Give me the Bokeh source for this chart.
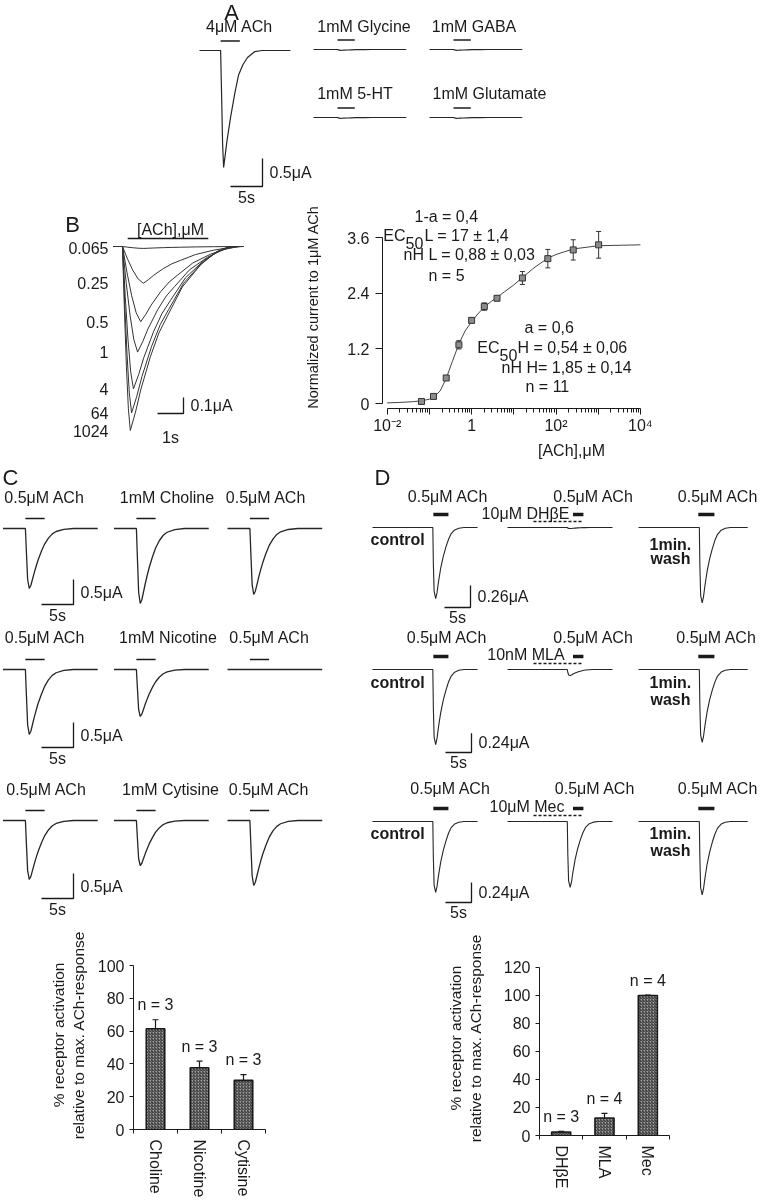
import math
from bokeh.plotting import figure
from bokeh.models import (Range1d, FixedTicker, LinearAxis, CustomJSTickFormatter,
                          Whisker, TeeHead, ColumnDataSource)
from bokeh.layouts import column, row
from bokeh.core.properties import value
from bokeh.embed import file_html
from bokeh.resources import INLINE

FONT = "Liberation Sans"
INK = "#1a1a1a"
TRACE = "#262626"

# ============================ DATA ============================
# A - 4 uM ACh versus other transmitters (peak current in uA, times in s)
a_names = ["4μM ACh", "1mM Glycine", "1mM GABA", "1mM 5-HT", "1mM Glutamate"]
a_peak = [2.09, 0.015, 0.015, 0.015, 0.015]
a_onset = [3.3, 3.75, 3.75, 3.75, 3.75]
a_stim = [3.0, 2.7, 2.7, 2.7, 2.7]
a_length = [14.2, 14.5, 14.5, 14.5, 14.5]
# time course (s after onset, fraction of peak)
a_shape_t = [0, 0.16, 0.31, 0.47, 0.7, 1.0, 1.56, 2.2, 2.8, 3.5, 4.2, 5.3, 6.5]
a_shape_f = [0, 0.4, 0.8, 1.0, 0.9, 0.77, 0.57, 0.37, 0.21, 0.12, 0.06, 0.01, 0]

# B - ACh concentration series (uM), peak current (uA)
b_conc = ["0.065", "0.25", "0.5", "1", "4", "64", "1024"]
b_peak = [0.012, 0.23, 0.47, 0.66, 0.89, 1.04, 1.15]
b_time_to_peak = [0.8, 0.8, 0.7, 0.58, 0.42, 0.35, 0.3]
b_rise_u = [0, 0.25, 0.5, 0.75, 1.0]
b_rise_f = [0, 0.35, 0.65, 0.88, 1.0]
b_decay_t = [0, 0.2, 0.4, 0.77, 1.1, 1.42, 2.0, 2.7, 3.3, 3.8]
b_decay_f = [1, 0.9, 0.78, 0.6, 0.47, 0.38, 0.22, 0.1, 0.03, 0]
b_stim = [0.2, 3.3]

# B - concentration-response
dr_conc = [0.065, 0.125, 0.25, 0.5, 1, 2, 4, 16, 64, 256, 1024]
dr_mean = [0.05, 0.16, 0.56, 1.28, 1.81, 2.11, 2.29, 2.73, 3.15, 3.34, 3.45]
dr_sem = [0.02, 0.03, 0.04, 0.09, 0.05, 0.08, 0.05, 0.14, 0.2, 0.22, 0.29]
dr_fit_conc = [0.01, 0.02, 0.04, 0.065, 0.1, 0.125, 0.18, 0.25, 0.35, 0.5, 0.7, 1, 1.4,
               2, 3, 4, 6, 10, 16, 30, 64, 100, 256, 1000, 10000]
dr_fit_norm = [0.02, 0.03, 0.045, 0.065, 0.1, 0.14, 0.28, 0.55, 0.92, 1.3, 1.58, 1.78, 1.95,
               2.1, 2.23, 2.31, 2.43, 2.58, 2.74, 2.95, 3.16, 3.24, 3.36, 3.43, 3.45]
dr_y_ticks = [0, 1.2, 2.4, 3.6]
dr_low_text = ["1-a = 0,4", "L = 17 ± 1,4", "nH L = 0,88 ± 0,03", "n = 5"]
dr_high_text = ["a = 0,6", "H = 0,54 ± 0,06", "nH H= 1,85 ± 0,14", "n = 11"]

# C - partial agonists
c_names = [["0.5μM ACh", "1mM Choline", "0.5μM ACh"],
           ["0.5μM ACh", "1mM Nicotine", "0.5μM ACh"],
           ["0.5μM ACh", "1mM Cytisine", "0.5μM ACh"]]
c_peak = [[1.2, 1.5, 1.32], [1.3, 0.94, 0.0], [1.18, 0.9, 1.3]]
c_onset, c_stim, c_length = 3.5, 3.0, 14.8
c_shape_t = [0, 0.16, 0.35, 0.6, 0.85, 1.1, 1.4, 1.7, 2.0, 2.5, 3.0, 3.6, 4.2, 4.8, 6.0, 7.5]
c_shape_f = [0, 0.4, 0.85, 1.0, 0.95, 0.85, 0.73, 0.62, 0.52, 0.38, 0.26, 0.16, 0.09, 0.05,
             0.015, 0]

# D - antagonists
d_ach = "0.5μM ACh"
d_blocker = ["10μM DHβE", "10nM MLA", "10μM Mec"]
d_peak = [[0.84, 0.012, 0.89], [0.94, 0.075, 0.91], [0.85, 0.79, 0.88]]
d_scale_ua = [0.26, 0.24, 0.24]
d_onset = [11.6, 11.5, 11.7]
d_stim_on = [11.7, 12.6, 11.5]
d_stim_off = 14.6
d_blocker_on = 5.0
d_length = [20.2, 20.2, 21.0]
d_shape_t = [0, 0.1, 0.25, 0.55, 0.8, 1.1, 1.5, 2.0, 2.5, 3.0, 3.5, 4.2, 5.0, 6.0]
d_shape_f = [0, 0.5, 0.9, 1.0, 0.92, 0.76, 0.58, 0.41, 0.28, 0.17, 0.09, 0.035, 0.01, 0]

# bar charts (% of max. ACh response)
cbar_cats = ["Choline", "Nicotine", "Cytisine"]
cbar_vals = [61.5, 37.7, 30.0]
cbar_err = [5.5, 4.0, 3.5]
cbar_n = ["n = 3", "n = 3", "n = 3"]
cbar_ticks = [0, 20, 40, 60, 80, 100]
dbar_cats = ["DHβE", "MLA", "Mec"]
dbar_vals = [2.5, 12.5, 99.8]
dbar_err = [0.5, 3.3, 0.3]
dbar_n = ["n = 3", "n = 4", "n = 4"]
dbar_ticks = [0, 20, 40, 60, 80, 100, 120]


# ============================ HELPERS ============================
def canvas(x0, x1, y0, y1):
    p = figure(width=x1 - x0, height=y1 - y0, x_range=Range1d(x0, x1),
               y_range=Range1d(y1, y0), output_backend="svg", toolbar_location=None,
               x_axis_location=None, y_axis_location=None, title=None,
               min_border=0, min_border_left=0, min_border_right=0,
               min_border_top=0, min_border_bottom=0, outline_line_color=None,
               frame_align=False)
    p.grid.visible = False
    return p


def txt(p, xs, ys, texts, size="16px", align="center", style="normal"):
    p.text(x=xs, y=ys, text=texts, text_align=align, text_baseline="middle",
           text_font=value(FONT), text_font_size=size, text_font_style=style,
           text_color=INK)


def trace(p, x0, yb, onset, peak, length, pxs, pxa, st, sf, width=1.2):
    ts = [0.0, onset] + [onset + t for t in st[1:]] + [length]
    fs = [0.0, 0.0] + list(sf[1:]) + [0.0]
    p.line([x0 + t * pxs for t in ts], [yb + peak * f * pxa for f in fs],
           line_color=TRACE, line_width=width)


def scalebar(p, xc, yc, t_len, a_len, pxs, pxa, t_lab, a_lab, t_dy=11):
    h = t_len * pxs
    v = a_len * pxa
    p.line([xc - h, xc, xc], [yc, yc, yc - v], line_color=INK, line_width=1.3)
    txt(p, [xc + 7], [yc - v / 2], [a_lab], align="left")
    txt(p, [xc - h / 2], [yc + t_dy], [t_lab])


# ============================ PANEL A ============================
pA = canvas(0, 760, 0, 205)
txt(pA, [231], [12], ["A"], size="22px")
A_X0 = [199, 313, 429, 313, 429]
A_YB = [50, 49, 49, 117, 117]
A_LX = [239, 363.5, 473.5, 354.5, 489]
A_LY = [26, 26, 26, 92.5, 92.5]
A_PXS, A_PXA = 6.4, 56
for i in range(5):
    trace(pA, A_X0[i], A_YB[i], a_onset[i], a_peak[i], a_length[i], A_PXS, A_PXA,
          a_shape_t, a_shape_f)
    x_on = A_X0[i] + a_onset[i] * A_PXS
    pA.line([x_on, x_on + a_stim[i] * A_PXS], [A_YB[i] - 9.5] * 2,
            line_color=INK, line_width=1.5)
txt(pA, A_LX, A_LY, a_names)
scalebar(pA, 262, 186, 5, 0.5, A_PXS, A_PXA, "5s", "0.5μA")

# ============================ PANEL B (traces) ============================
pBL = canvas(0, 290, 205, 466)
txt(pBL, [72], [224], ["B"], size="22px")
B_XON, B_YB, B_PXS, B_PXA = 122, 246, 26, 160
for amp, ttp in zip(b_peak, b_time_to_peak):
    ts = [-0.35, 0] + [u * ttp for u in b_rise_u[1:]] + [ttp + d for d in b_decay_t[1:]] + [4.65]
    fs = [0, 0] + b_rise_f[1:] + b_decay_f[1:] + [0]
    pBL.line([B_XON + t * B_PXS for t in ts], [B_YB + amp * f * B_PXA for f in fs],
             line_color="#333333", line_width=1)
txt(pBL, [108] * len(b_conc), [B_YB + max(a * B_PXA, 1.5) for a in b_peak], b_conc,
    align="right")
pBL.line([B_XON + b_stim[0] * B_PXS, B_XON + b_stim[1] * B_PXS], [238, 238],
         line_color=INK, line_width=1.3)
txt(pBL, [170], [229], ["[ACh],μM"])
scalebar(pBL, 183, 413, 1, 0.1, B_PXS, B_PXA, "1s", "0.1μA", t_dy=24)

# ============================ PANEL B (concentration-response) ============================
X10M2, PXDEC = 386.7, 42.2      # screen position of 10^-2 and px per decade
Y0, PXU = 403.3, 46.08          # screen position of 0 and px per unit
FR_L, FR_R, FR_T, FR_B = 382, 760, 205, 408


def drx(px):
    return 10 ** (-2 + (px - X10M2) / PXDEC)


def dry(py):
    return (Y0 - py) / PXU


pBR = figure(width=470, height=261, x_axis_type="log",
             x_range=Range1d(drx(FR_L), drx(FR_R)), y_range=Range1d(dry(FR_B), dry(FR_T)),
             output_backend="svg", toolbar_location=None, title=None,
             min_border_left=FR_L - 290, min_border_right=0, min_border_top=0,
             min_border_bottom=466 - FR_B, outline_line_color=None, frame_align=False)
pBR.grid.visible = False
xa = pBR.xaxis[0]
xa.ticker = FixedTicker(ticks=[10.0 ** k for k in range(-2, 5)],
                        minor_ticks=[m * 10.0 ** k for k in range(-2, 4) for m in range(2, 10)])
xa.formatter = CustomJSTickFormatter(code="""
const e = Math.round(Math.log10(tick));
if (e % 2 != 0) { return ""; }
if (e == 0) { return "1"; }
const sup = {"-2": "⁻²", "2": "²", "4": "⁴"};
return "10" + sup[String(e)];
""")
xa.bounds = (0.01, 10000)
xa.axis_label = "[ACh],μM"
ya = pBR.yaxis[0]
ya.ticker = FixedTicker(ticks=dr_y_ticks)
ya.bounds = (0, 3.6)
ya.axis_label = "Normalized current to 1μM ACh"
for ax in (xa, ya):
    ax.axis_line_color = INK
    ax.major_tick_line_color = INK
    ax.minor_tick_line_color = INK
    ax.major_tick_in = 0
    ax.minor_tick_in = 0
    ax.major_label_text_font = FONT
    ax.major_label_text_font_size = "16px"
    ax.major_label_text_color = INK
    ax.axis_label_text_font = FONT
    ax.axis_label_text_font_size = "16px"
    ax.axis_label_text_font_style = "normal"
    ax.axis_label_text_color = INK
ya.axis_label_text_font_size = "14.5px"
xa.major_tick_out = 6
xa.minor_tick_out = 4
xa.major_label_standoff = 2
xa.axis_label_standoff = 5
ya.major_tick_out = 7
ya.minor_tick_out = 0
ya.major_label_standoff = 6
ya.axis_label_standoff = 23

pBR.line(dr_fit_conc, dr_fit_norm, line_color="#444444", line_width=1)
src = ColumnDataSource(dict(x=dr_conc, y=dr_mean,
                            lo=[m - s for m, s in zip(dr_mean, dr_sem)],
                            hi=[m + s for m, s in zip(dr_mean, dr_sem)]))
pBR.add_layout(Whisker(source=src, base="x", upper="hi", lower="lo", line_color="#333333",
                       line_width=1,
                       upper_head=TeeHead(size=5, line_color="#333333", line_width=1),
                       lower_head=TeeHead(size=5, line_color="#333333", line_width=1)))
pBR.scatter("x", "y", source=src, marker="square", size=6, fill_color="#8c8c8c",
            line_color="#333333", line_width=1)

# fit parameter annotations
txt(pBR, [drx(414)], [dry(216)], [dr_low_text[0]], align="left")
txt(pBR, [drx(405)], [dry(235)], ["EC"], align="right")
txt(pBR, [drx(405)], [dry(242)], ["50"], align="left")
txt(pBR, [drx(424)], [dry(235)], [dr_low_text[1]], align="left")
txt(pBR, [drx(403)], [dry(254)], [dr_low_text[2]], align="left")
txt(pBR, [drx(428)], [dry(275)], [dr_low_text[3]], align="left")
txt(pBR, [drx(524)], [dry(327)], [dr_high_text[0]], align="left")
txt(pBR, [drx(499)], [dry(347)], ["EC"], align="right")
txt(pBR, [drx(499)], [dry(354)], ["50"], align="left")
txt(pBR, [drx(517)], [dry(347)], [dr_high_text[1]], align="left")
txt(pBR, [drx(501)], [dry(367)], [dr_high_text[2]], align="left")
txt(pBR, [drx(525)], [dry(386)], [dr_high_text[3]], align="left")

# ============================ PANELS C and D (traces) ============================
pCD = canvas(0, 760, 466, 930)
txt(pCD, [10, 382], [477, 477], ["C", "D"], size="22px")

C_X0 = [2.5, 113.5, 227]
C_YB = [528, 669, 820]
C_LY = [497, 637, 789]
C_LX = [[44, 166.5, 265.5], [44.5, 167.5, 269], [46, 170, 268.5]]
C_SB = [(73, 604), (73, 747), (73, 898)]
C_PXS, C_PXA = 6.4, 50
for r in range(3):
    for c in range(3):
        trace(pCD, C_X0[c], C_YB[r], c_onset, c_peak[r][c], c_length, C_PXS, C_PXA,
              c_shape_t, c_shape_f, width=1.3)
        x_on = C_X0[c] + c_onset * C_PXS
        pCD.line([x_on, x_on + c_stim * C_PXS], [C_YB[r] - 10] * 2, line_color=INK,
                 line_width=1.5)
    txt(pCD, C_LX[r], [C_LY[r]] * 3, c_names[r])
    scalebar(pCD, C_SB[r][0], C_SB[r][1], 5, 0.5, C_PXS, C_PXA, "5s", "0.5μA")

D_X0 = [372, 507, 638]
D_YB = [527, 669, 821]
D_LY = [496, 637, 788]
D_LX = [[447.5, 593, 717.5], [446.5, 593, 716], [450, 594.5, 717.5]]
D_BL = [(525, 513), (525.5, 654), (526.5, 806)]
D_SB = [(470, 607), (471, 752), (471, 902)]
D_SB_PX = [22, 19.2, 20]
D_PXS = 5.2
D_CTRL_Y = [539, 682, 833]
D_MIN_Y = [543.5, 682, 832.5]
D_WASH_Y = [557.5, 699, 849.5]
for r in range(3):
    pxa = D_SB_PX[r] / d_scale_ua[r]
    for c in range(3):
        trace(pCD, D_X0[c], D_YB[r], d_onset[c], d_peak[r][c], d_length[c], D_PXS, pxa,
              d_shape_t, d_shape_f, width=1.1)
        pCD.line([D_X0[c] + d_stim_on[c] * D_PXS, D_X0[c] + d_stim_off * D_PXS],
                 [D_YB[r] - 13] * 2, line_color=INK, line_width=3.5)
    pCD.line([D_X0[1] + d_blocker_on * D_PXS, D_X0[1] + d_stim_off * D_PXS],
             [D_YB[r] - 6] * 2, line_color=INK, line_width=1.5, line_dash="3 2")
    txt(pCD, D_LX[r], [D_LY[r]] * 3, [d_ach] * 3)
    txt(pCD, [D_BL[r][0]], [D_BL[r][1]], [d_blocker[r]])
    txt(pCD, [370], [D_CTRL_Y[r]], ["control"], align="left", style="bold")
    txt(pCD, [649], [D_MIN_Y[r]], ["1min."], align="left", style="bold")
    txt(pCD, [650], [D_WASH_Y[r]], ["wash"], align="left", style="bold")
    scalebar(pCD, D_SB[r][0], D_SB[r][1], 5, d_scale_ua[r], D_PXS, pxa, "5s",
             "%gμA" % d_scale_ua[r], t_dy=10)


# ============================ BAR CHARTS ============================
def bar_chart(width, b_left, b_right, px_per_unit, ticks, cats, vals, errs, ns, bar_w,
              lab_standoff):
    top_val = 195 / px_per_unit
    n = len(cats)
    p = figure(width=width, height=270, x_range=Range1d(0, n), y_range=Range1d(0, top_val),
               output_backend="svg", toolbar_location=None, title=None,
               min_border_left=b_left, min_border_right=b_right, min_border_top=10,
               min_border_bottom=65, outline_line_color=None, frame_align=False)
    p.grid.visible = False
    xc = [i + 0.5 for i in range(n)]
    p.vbar(x=xc, top=vals, bottom=0, width=bar_w, fill_color="#a0a0a0",
           hatch_pattern="/", hatch_color="#2a2a2a", hatch_scale=3.0, hatch_weight=1.0,
           line_color=INK, line_width=1.6)
    s = ColumnDataSource(dict(x=xc, lo=vals, hi=[v + e for v, e in zip(vals, errs)]))
    p.add_layout(Whisker(source=s, base="x", upper="hi", lower="lo", line_color=INK,
                         line_width=1.2, lower_head=None,
                         upper_head=TeeHead(size=6, line_color=INK, line_width=1.2)))
    p.text(x=xc, y=[v + e for v, e in zip(vals, errs)], text=ns, y_offset=-15,
           text_align="center", text_baseline="middle", text_font=value(FONT),
           text_font_size="16px", text_color=INK)
    ya = p.yaxis[0]
    ya.ticker = FixedTicker(ticks=ticks)
    ya.bounds = (0, ticks[-1])
    ya.axis_label = "relative to max. ACh-response"
    ya.axis_label_standoff = lab_standoff
    ya.major_tick_out = 4
    ya.major_label_standoff = 5
    xa = p.xaxis[0]
    xa.ticker = FixedTicker(ticks=xc, minor_ticks=list(range(n + 1)))
    xa.formatter = CustomJSTickFormatter(args=dict(names=cats),
                                         code="return names[Math.floor(tick)];")
    xa.major_label_orientation = "vertical"
    xa.major_tick_out = 0
    xa.minor_tick_out = 4
    xa.major_label_standoff = 6
    for ax in (xa, ya):
        ax.axis_line_color = INK
        ax.major_tick_line_color = INK
        ax.minor_tick_line_color = INK
        ax.major_tick_in = 0
        ax.minor_tick_in = 0
        ax.major_label_text_font = FONT
        ax.major_label_text_font_size = "16px"
        ax.major_label_text_color = INK
        ax.axis_label_text_font = FONT
        ax.axis_label_text_font_size = "15.5px"
        ax.axis_label_text_font_style = "normal"
        ax.axis_label_text_color = INK
    ya.minor_tick_out = 0
    ax2 = LinearAxis(ticker=FixedTicker(ticks=[]), axis_label="% receptor activation",
                     axis_line_color=None, major_tick_out=0, major_tick_in=0,
                     minor_tick_out=0, minor_tick_in=0, axis_label_standoff=0,
                     bounds=(0, ticks[-1]), axis_label_text_font=FONT,
                     axis_label_text_font_size="15.5px", axis_label_text_font_style="normal",
                     axis_label_text_color=INK)
    p.add_layout(ax2, "left")
    return p


pC2 = bar_chart(380, 133, 115, 1.69, cbar_ticks, cbar_cats, cbar_vals, cbar_err, cbar_n,
                0.42, 8)
pD2 = bar_chart(380, 159, 91, 1.4025, dbar_ticks, dbar_cats, dbar_vals, dbar_err, dbar_n,
                0.44, 17)

layout = column(pA, row(pBL, pBR, spacing=0), pCD, row(pC2, pD2, spacing=0), spacing=0,
                styles={"position": "fixed", "left": "0px", "top": "0px"})

open("out.html", "w").write(file_html(layout, INLINE))
